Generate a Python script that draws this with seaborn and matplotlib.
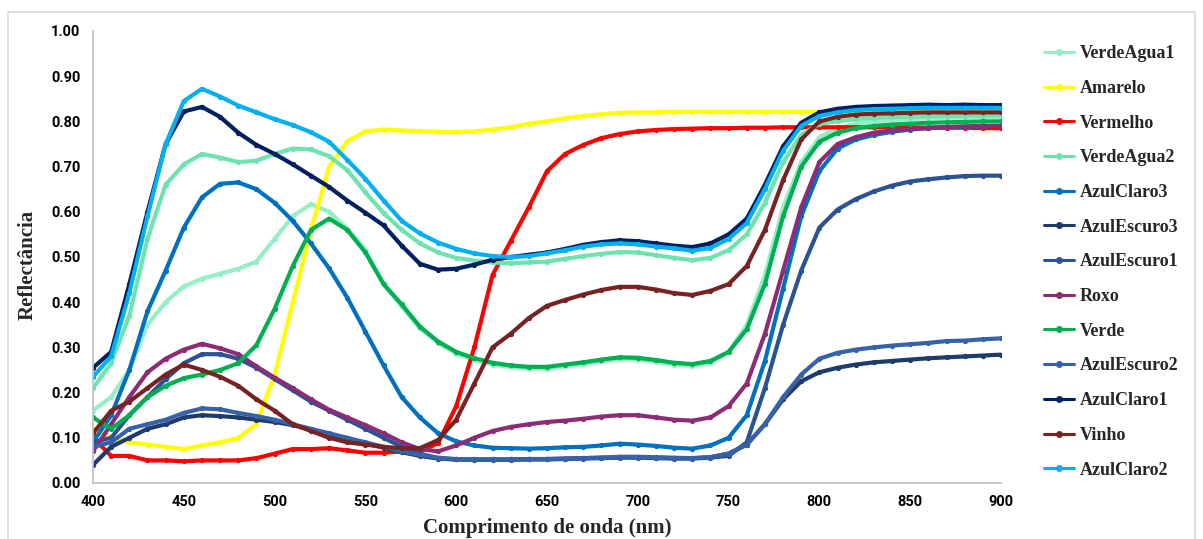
import numpy as np
import pandas as pd
import matplotlib
matplotlib.use("Agg")
import matplotlib.pyplot as plt
from matplotlib.lines import Line2D
from matplotlib.patches import Rectangle
import seaborn as sns

wavelengths = list(range(400, 901, 10))

names = ["VerdeAgua1", "Amarelo", "Vermelho", "VerdeAgua2", "AzulClaro3",
         "AzulEscuro3", "AzulEscuro1", "Roxo", "Verde", "AzulEscuro2",
         "AzulClaro1", "Vinho", "AzulClaro2"]

colors = ["#96EEC6", "#FFFF00", "#FF0000", "#6EE3AE", "#0070C0",
          "#203A6A", "#2B5294", "#8B2C74", "#00B050", "#3762A8",
          "#002060", "#782323", "#00B0F0"]

verde_agua1 = [0.16, 0.19, 0.25, 0.35, 0.40, 0.435, 0.452, 0.463, 0.474, 0.49,
               0.54, 0.59, 0.617, 0.60, 0.563, 0.515, 0.44, 0.39, 0.342, 0.31,
               0.286, 0.272, 0.262, 0.256, 0.253, 0.253, 0.258, 0.263, 0.269, 0.274,
               0.273, 0.268, 0.262, 0.259, 0.266, 0.29, 0.35, 0.46, 0.61, 0.71,
               0.765, 0.785, 0.795, 0.80, 0.803, 0.805, 0.807, 0.808, 0.809, 0.81, 0.81]
amarelo = [0.12, 0.10, 0.09, 0.085, 0.08, 0.075, 0.083, 0.09, 0.10, 0.13,
           0.24, 0.40, 0.56, 0.70, 0.756, 0.778, 0.782, 0.78, 0.778, 0.777,
           0.776, 0.778, 0.782, 0.787, 0.795, 0.80, 0.807, 0.812, 0.816, 0.819,
           0.82, 0.82, 0.821, 0.821, 0.821, 0.821, 0.821, 0.821, 0.821, 0.821,
           0.821, 0.821, 0.821, 0.821, 0.821, 0.821, 0.821, 0.821, 0.821, 0.821, 0.821]
vermelho = [0.10, 0.06, 0.06, 0.05, 0.05, 0.048, 0.05, 0.05, 0.05, 0.055,
            0.065, 0.075, 0.075, 0.077, 0.072, 0.067, 0.067, 0.07, 0.07, 0.088,
            0.17, 0.30, 0.46, 0.535, 0.61, 0.69, 0.728, 0.748, 0.763, 0.772,
            0.778, 0.781, 0.783, 0.784, 0.785, 0.785, 0.786, 0.786, 0.787, 0.787,
            0.787, 0.787, 0.787, 0.787, 0.787, 0.787, 0.786, 0.786, 0.786, 0.785, 0.785]
verde_agua2 = [0.21, 0.265, 0.37, 0.54, 0.66, 0.705, 0.728, 0.72, 0.71, 0.713,
               0.728, 0.74, 0.738, 0.723, 0.692, 0.643, 0.597, 0.56, 0.53, 0.51,
               0.498, 0.492, 0.488, 0.486, 0.488, 0.49, 0.496, 0.502, 0.507, 0.511,
               0.51, 0.504, 0.498, 0.493, 0.498, 0.515, 0.55, 0.62, 0.71, 0.77,
               0.795, 0.80, 0.805, 0.808, 0.81, 0.81, 0.812, 0.812, 0.813, 0.813, 0.814]
azul_claro3 = [0.09, 0.15, 0.25, 0.38, 0.47, 0.565, 0.632, 0.662, 0.665, 0.65,
               0.62, 0.58, 0.53, 0.475, 0.41, 0.335, 0.26, 0.19, 0.145, 0.11,
               0.092, 0.083, 0.078, 0.077, 0.076, 0.077, 0.079, 0.08, 0.083, 0.087,
               0.085, 0.082, 0.078, 0.076, 0.083, 0.10, 0.15, 0.27, 0.43, 0.59,
               0.69, 0.74, 0.76, 0.77, 0.777, 0.782, 0.785, 0.787, 0.788, 0.789, 0.79]
azul_escuro3 = [0.04, 0.08, 0.10, 0.12, 0.13, 0.145, 0.15, 0.148, 0.145, 0.14,
                0.135, 0.128, 0.118, 0.108, 0.098, 0.088, 0.078, 0.068, 0.06, 0.054,
                0.052, 0.052, 0.052, 0.052, 0.053, 0.053, 0.054, 0.055, 0.056, 0.057,
                0.057, 0.056, 0.055, 0.055, 0.057, 0.065, 0.085, 0.13, 0.185, 0.225,
                0.245, 0.255, 0.262, 0.267, 0.27, 0.273, 0.276, 0.278, 0.28, 0.282, 0.284]
azul_escuro1 = [0.09, 0.10, 0.15, 0.19, 0.23, 0.265, 0.285, 0.285, 0.275, 0.255,
                0.23, 0.205, 0.18, 0.16, 0.14, 0.12, 0.10, 0.08, 0.065, 0.055,
                0.052, 0.051, 0.051, 0.051, 0.052, 0.052, 0.053, 0.054, 0.055, 0.056,
                0.056, 0.055, 0.054, 0.054, 0.056, 0.06, 0.09, 0.21, 0.35, 0.47,
                0.565, 0.605, 0.628, 0.645, 0.658, 0.667, 0.672, 0.676, 0.679, 0.68, 0.68]
roxo = [0.07, 0.13, 0.19, 0.245, 0.275, 0.295, 0.308, 0.298, 0.285, 0.258,
        0.233, 0.21, 0.185, 0.162, 0.145, 0.128, 0.11, 0.09, 0.075, 0.07,
        0.083, 0.10, 0.115, 0.124, 0.13, 0.135, 0.138, 0.142, 0.147, 0.15,
        0.15, 0.145, 0.14, 0.138, 0.145, 0.17, 0.22, 0.33, 0.47, 0.61,
        0.71, 0.75, 0.765, 0.775, 0.78, 0.783, 0.786, 0.788, 0.789, 0.79, 0.79]
verde = [0.145, 0.12, 0.15, 0.19, 0.215, 0.232, 0.24, 0.25, 0.265, 0.305,
         0.385, 0.48, 0.56, 0.585, 0.56, 0.51, 0.44, 0.395, 0.346, 0.313,
         0.29, 0.276, 0.266, 0.26, 0.257, 0.257, 0.262, 0.267, 0.273, 0.278,
         0.277, 0.272, 0.266, 0.263, 0.27, 0.29, 0.34, 0.44, 0.59, 0.70,
         0.755, 0.775, 0.785, 0.79, 0.793, 0.795, 0.797, 0.798, 0.799, 0.80, 0.80]
azul_escuro2 = [0.08, 0.09, 0.12, 0.13, 0.14, 0.155, 0.165, 0.163, 0.155, 0.148,
                0.14, 0.13, 0.12, 0.11, 0.10, 0.09, 0.08, 0.07, 0.062, 0.056,
                0.053, 0.052, 0.052, 0.052, 0.053, 0.053, 0.054, 0.055, 0.056, 0.058,
                0.058, 0.057, 0.056, 0.055, 0.057, 0.065, 0.085, 0.13, 0.19, 0.24,
                0.275, 0.288, 0.295, 0.30, 0.304, 0.307, 0.31, 0.314, 0.315, 0.318, 0.32]
azul_claro1 = [0.255, 0.29, 0.44, 0.60, 0.75, 0.822, 0.832, 0.81, 0.775, 0.748,
               0.728, 0.705, 0.68, 0.655, 0.625, 0.598, 0.57, 0.525, 0.485, 0.472,
               0.474, 0.483, 0.494, 0.50, 0.505, 0.51, 0.518, 0.527, 0.533, 0.537,
               0.535, 0.53, 0.525, 0.522, 0.53, 0.55, 0.585, 0.66, 0.745, 0.797,
               0.82, 0.828, 0.832, 0.834, 0.835, 0.836, 0.837, 0.836, 0.837, 0.836, 0.836]
vinho = [0.11, 0.16, 0.18, 0.21, 0.24, 0.262, 0.25, 0.235, 0.215, 0.185,
         0.16, 0.13, 0.115, 0.10, 0.09, 0.085, 0.08, 0.077, 0.077, 0.095,
         0.14, 0.22, 0.30, 0.33, 0.365, 0.392, 0.405, 0.417, 0.427, 0.434,
         0.434, 0.428, 0.42, 0.416, 0.425, 0.44, 0.48, 0.56, 0.67, 0.76,
         0.80, 0.81, 0.815, 0.817, 0.818, 0.819, 0.82, 0.82, 0.82, 0.82, 0.82]
azul_claro2 = [0.235, 0.28, 0.42, 0.59, 0.75, 0.845, 0.872, 0.855, 0.835, 0.82,
               0.805, 0.792, 0.776, 0.755, 0.715, 0.673, 0.625, 0.58, 0.552, 0.532,
               0.518, 0.508, 0.502, 0.50, 0.502, 0.508, 0.515, 0.523, 0.528, 0.53,
               0.528, 0.523, 0.519, 0.514, 0.52, 0.54, 0.575, 0.65, 0.735, 0.79,
               0.812, 0.82, 0.825, 0.827, 0.828, 0.829, 0.83, 0.83, 0.83, 0.83, 0.83]

series = [verde_agua1, amarelo, vermelho, verde_agua2, azul_claro3, azul_escuro3,
          azul_escuro1, roxo, verde, azul_escuro2, azul_claro1, vinho, azul_claro2]

y_ticks = [0.0, 0.1, 0.2, 0.3, 0.4, 0.5, 0.6, 0.7, 0.8, 0.9, 1.0]
x_ticks = list(range(400, 901, 50))

df = pd.concat([pd.DataFrame({"wl": wavelengths, "refl": vals, "serie": n})
                for n, vals in zip(names, series)], ignore_index=True)
palette = dict(zip(names, colors))

sns.set_theme(style="white")
W, H = 1203, 539
fig = plt.figure(figsize=(W / 100, H / 100), dpi=100)
fig.patch.set_facecolor("white")
fig.patches.append(Rectangle((8 / W, -0.02), 1187 / W, 1 - 12 / H + 0.02,
                             transform=fig.transFigure, fill=False,
                             edgecolor="#D9D9D9", lw=1.2))

ax = fig.add_axes([93 / W, 1 - 483 / H, (1001 - 93) / W, (483 - 31) / H])
sns.lineplot(data=df, x="wl", y="refl", hue="serie", hue_order=names,
             palette=palette, estimator=None, sort=True, legend=False,
             marker="o", markersize=3.8, markeredgewidth=0, linewidth=3.0, ax=ax)

ax.set_xlim(400, 900)
ax.set_ylim(0, 1.0)
ax.set_xticks(x_ticks)
ax.set_yticks(y_ticks)
ax.set_yticklabels([f"{v:.2f}" for v in y_ticks])
ax.set_xlabel("")
ax.set_ylabel("")
for s in ["top", "right"]:
    ax.spines[s].set_visible(False)
for s in ["left", "bottom"]:
    ax.spines[s].set_color("#BFBFBF")
    ax.spines[s].set_linewidth(1.2)
ax.tick_params(axis="both", which="major", direction="out", length=5, width=1,
               color="#BFBFBF", pad=4, labelsize=10.5, labelcolor="black")
for lab in ax.get_xticklabels() + ax.get_yticklabels():
    lab.set_fontfamily("Roboto")
    lab.set_fontweight("bold")
ax.set_facecolor("white")

fig.text(547 / W, 1 - 518 / H, "Comprimento de onda (nm)", ha="center", va="top",
         fontfamily="Liberation Serif", fontweight="bold", fontsize=15)
fig.text(28 / W, 1 - 265 / H, "Reflectância", ha="center", va="center",
         rotation=90, fontfamily="Liberation Serif", fontweight="bold", fontsize=15)

handles = [Line2D([0], [0], color=c, lw=2.2, marker="o", markersize=5,
                  markeredgewidth=0) for c in colors]
fig.legend(handles, names, loc="upper left", bbox_to_anchor=(1037 / W, 1 - 38 / H),
           frameon=False, borderaxespad=0, handlelength=1.65, handletextpad=0.3,
           labelspacing=0.98,
           prop={"family": "Liberation Serif", "weight": "bold", "size": 13})

fig.savefig("out.png", dpi=100)
